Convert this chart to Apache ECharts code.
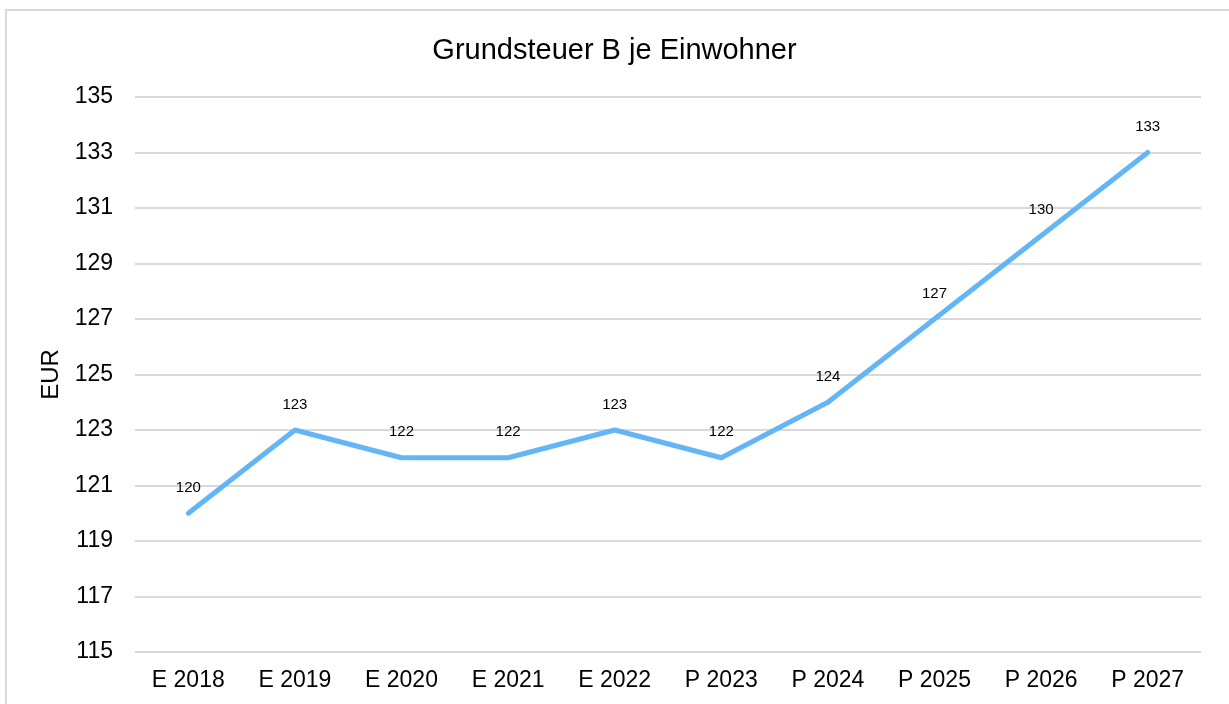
<!DOCTYPE html>
<html lang="de">
<head>
    <meta charset="UTF-8">
    <title>Grundsteuer B je Einwohner</title>
    <script src="https://cdn.jsdelivr.net/npm/echarts@6/dist/echarts.min.js"></script>
    <style>
        * { margin: 0; padding: 0; box-sizing: border-box; }
        body { background: #fff; width: 1229px; height: 704px; overflow: hidden; position: relative; }
        .frame {
            position: absolute;
            left: 5px; top: 9px; width: 1240px; height: 720px;
            border-top: 2px solid #d9d9d9;
            border-left: 2px solid #d9d9d9;
        }
        #chart { position: absolute; left: 0; top: 0; width: 1229px; height: 704px; }
    </style>
</head>
<body>
    <div class="frame"></div>
    <div id="chart"></div>
    <script>
        const categories = ['E 2018', 'E 2019', 'E 2020', 'E 2021', 'E 2022', 'P 2023', 'P 2024', 'P 2025', 'P 2026', 'P 2027'];
        const values = [120, 123, 122, 122, 123, 122, 124, 127, 130, 133];

        const font = '"Liberation Sans", Arial, sans-serif';

        const chart = echarts.init(document.getElementById('chart'));
        chart.setOption({
            animation: false,
            textStyle: { fontFamily: font },
            title: {
                text: 'Grundsteuer B je Einwohner',
                left: 'center',
                top: 31,
                textStyle: { fontFamily: font, fontSize: 29, fontWeight: 'normal', color: '#000' }
            },
            grid: { left: 135, right: 28, top: 97, bottom: 52 },
            xAxis: {
                type: 'category',
                data: categories,
                boundaryGap: true,
                axisLine: { show: false },
                axisTick: { show: false },
                axisLabel: { fontFamily: font, fontSize: 23, color: '#000', margin: 17 }
            },
            yAxis: {
                type: 'value',
                min: 115,
                max: 135,
                interval: 2,
                name: 'EUR',
                nameLocation: 'middle',
                nameGap: 71,
                nameTextStyle: { fontFamily: font, fontSize: 24, color: '#000' },
                axisLine: { show: false },
                axisTick: { show: false },
                axisLabel: { fontFamily: font, fontSize: 23, color: '#000', margin: 22 },
                splitLine: { lineStyle: { color: '#d9d9d9', width: 2 } }
            },
            series: [{
                type: 'line',
                data: values,
                symbol: 'circle',
                symbolSize: 0,
                showSymbol: true,
                lineStyle: { color: '#64B5F6', width: 5, cap: 'round', join: 'round' },
                itemStyle: { color: '#64B5F6' },
                label: {
                    show: true,
                    position: 'top',
                    distance: 18,
                    fontFamily: font,
                    fontSize: 15,
                    color: '#000'
                }
            }]
        });
    </script>
</body>
</html>
